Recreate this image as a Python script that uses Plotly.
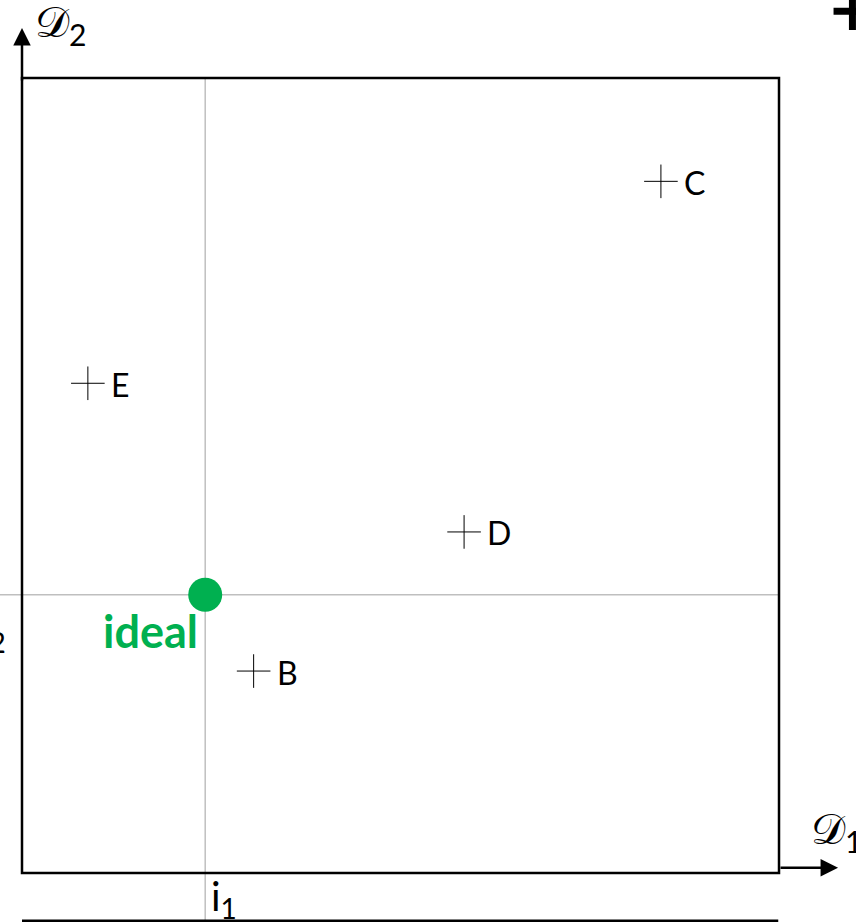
import plotly.graph_objects as go

# ---- data (D1, D2 objective space, box = 0..100) ----
alt_names = ["B", "C", "D", "E"]
alt_d1 = [30.6, 84.4, 58.4, 8.7]
alt_d2 = [25.4, 87.0, 42.9, 61.6]
ideal_d1 = [24.2]
ideal_d2 = [35.0]
ideal_label = ["ideal"]
axis_names = ["𝒟<sub>2</sub>", "𝒟<sub>1</sub>"]

FONT = "Lato, Liberation Sans, sans-serif"
GREEN = "#00B050"

fig = go.Figure()

# guide lines through the ideal point
fig.add_shape(type="line", x0=ideal_d1[0], x1=ideal_d1[0], y0=100, y1=-6.2,
              line=dict(color="#BFBFBF", width=1.5), layer="below")
fig.add_shape(type="line", x0=-3, x1=100, y0=ideal_d2[0], y1=ideal_d2[0],
              line=dict(color="#BFBFBF", width=1.5), layer="below")

# frame
fig.add_shape(type="rect", x0=0, x1=100, y0=0, y1=100,
              line=dict(color="black", width=2.5))
# bottom (cut) line
fig.add_shape(type="line", x0=0, x1=99.9, y0=-6.05, y1=-6.05,
              line=dict(color="black", width=3))

# alternatives
fig.add_trace(go.Scatter(x=alt_d1, y=alt_d2, mode="markers",
                         marker=dict(symbol="cross-thin", size=24,
                                     line=dict(color="black", width=1)),
                         hoverinfo="skip", showlegend=False))
for n, x, y in zip(alt_names, alt_d1, alt_d2):
    fig.add_annotation(x=x, y=y, text=n, showarrow=False, xanchor="left",
                       yanchor="middle", xshift=21, yshift=-1,
                       font=dict(family=FONT, size=32, color="black"))

# ideal point
fig.add_trace(go.Scatter(x=ideal_d1, y=ideal_d2, mode="markers",
                         marker=dict(size=34, color=GREEN),
                         hoverinfo="skip", showlegend=False))
fig.add_annotation(x=ideal_d1[0], y=ideal_d2[0], text="<b>" + ideal_label[0] + "</b>",
                   showarrow=False, xanchor="right", yanchor="middle",
                   xshift=-5, yshift=-36,
                   font=dict(family=FONT, size=45, color=GREEN))

# axis arrows
fig.add_annotation(x=0, y=106.3, ax=0, ay=99.5, axref="x", ayref="y",
                   showarrow=True, arrowhead=2, arrowsize=1.4, arrowwidth=2.5,
                   arrowcolor="black", text="")
fig.add_annotation(x=107.8, y=0.65, ax=100, ay=0.65, axref="x", ayref="y",
                   showarrow=True, arrowhead=2, arrowsize=1.4, arrowwidth=2.5,
                   arrowcolor="black", text="")

# axis labels
fig.add_annotation(x=1.4, y=106.8, text=axis_names[0], showarrow=False,
                   xanchor="left", yanchor="middle",
                   font=dict(family=FONT, size=43, color="black"))
fig.add_annotation(x=103.9, y=5.4, text=axis_names[1], showarrow=False,
                   xanchor="left", yanchor="middle",
                   font=dict(family=FONT, size=43, color="black"))

# ideal coordinate labels
fig.add_annotation(x=24.7, y=-3.2, text="i<sub>1</sub>", showarrow=False,
                   xanchor="left", yanchor="middle",
                   font=dict(family=FONT, size=40, color="black"))
fig.add_annotation(x=-1.8, y=30.2, text="i<sub>2</sub>", showarrow=False,
                   xanchor="right", yanchor="middle",
                   font=dict(family=FONT, size=40, color="black"))

# cut-off plus at top right
fig.add_trace(go.Scatter(x=[109.7], y=[108.4], mode="markers",
                         marker=dict(symbol="cross-thin", size=27,
                                     line=dict(color="black", width=7)),
                         hoverinfo="skip", showlegend=False, cliponaxis=False))

fig.update_layout(
    width=856, height=922,
    margin=dict(l=0, r=0, t=0, b=0),
    paper_bgcolor="white", plot_bgcolor="white",
    xaxis=dict(range=[-2.906, 110.17], visible=False, fixedrange=True),
    yaxis=dict(range=[-6.164, 109.81], visible=False, fixedrange=True),
)

fig.write_html("out.html", config={"displayModeBar": False},
               post_script="document.body.style.margin='0';document.body.style.overflow='hidden';")
